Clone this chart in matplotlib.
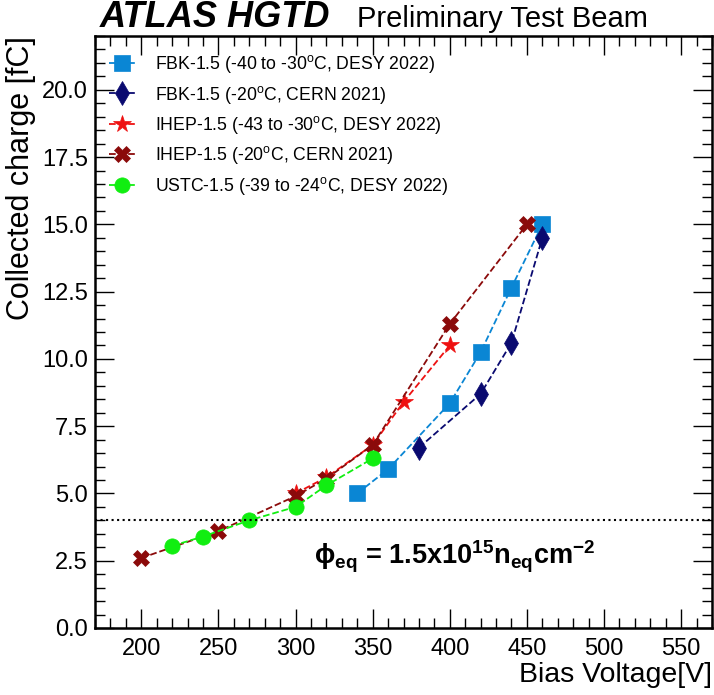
import matplotlib
matplotlib.use("Agg")
import matplotlib.pyplot as plt
from matplotlib.ticker import MultipleLocator, FormatStrFormatter

plt.rcParams["font.family"] = ["Liberation Sans", "DejaVu Sans"]
plt.rcParams["mathtext.fontset"] = "custom"
plt.rcParams["mathtext.rm"] = "Liberation Sans"
plt.rcParams["mathtext.bf"] = "Liberation Sans:bold"

# data
fbk_desy_v = [340, 360, 400, 420, 440, 460]
fbk_desy_q = [5.0, 5.9, 8.35, 10.25, 12.65, 15.0]
fbk_cern_v = [380, 420, 440, 460]
fbk_cern_q = [6.7, 8.7, 10.6, 14.5]
ihep_desy_v = [300, 320, 350, 370, 400]
ihep_desy_q = [5.0, 5.6, 6.8, 8.4, 10.5]
ihep_cern_v = [200, 250, 300, 320, 350, 400, 450]
ihep_cern_q = [2.6, 3.6, 4.9, 5.55, 6.8, 11.3, 15.0]
ustc_v = [220, 240, 270, 300, 320, 350]
ustc_q = [3.05, 3.4, 4.0, 4.5, 5.3, 6.3]
threshold = 4.0

deg = r"$^{\mathrm{o}}$"
series = [
    (fbk_desy_v, fbk_desy_q, f"FBK-1.5 (-40 to -30{deg}C, DESY 2022)", "#0a86d4", "s", 11),
    (fbk_cern_v, fbk_cern_q, f"FBK-1.5 (-20{deg}C, CERN 2021)", "#0a0a70", "d", 12),
    (ihep_desy_v, ihep_desy_q, f"IHEP-1.5 (-43 to -30{deg}C, DESY 2022)", "#ee1111", "*", 13),
    (ihep_cern_v, ihep_cern_q, f"IHEP-1.5 (-20{deg}C, CERN 2021)", "#8b0a0a", "X", 11),
    (ustc_v, ustc_q, f"USTC-1.5 (-39 to -24{deg}C, DESY 2022)", "#11ee11", "o", 11),
]

fig = plt.figure(figsize=(7.14, 6.95), dpi=100)
ax = fig.add_axes([95 / 714, 67 / 695, 617 / 714, 592 / 695])

for v, q, lab, col, mk, ms in series:
    ax.plot(v, q, linestyle="--", color=col, marker=mk, markersize=ms,
            linewidth=1.3, label=lab, markeredgewidth=0.5)

ax.axhline(threshold, color="black", linestyle=":", linewidth=1.5)

ax.set_xlim(170, 570)
ax.set_ylim(0, 22)
ax.xaxis.set_major_locator(MultipleLocator(50))
ax.xaxis.set_minor_locator(MultipleLocator(10))
ax.yaxis.set_major_locator(MultipleLocator(2.5))
ax.yaxis.set_minor_locator(MultipleLocator(0.5))
ax.yaxis.set_major_formatter(FormatStrFormatter("%.1f"))
ax.tick_params(which="both", direction="in", top=True, right=True, labelsize=17)
ax.tick_params(which="major", length=14, width=1)
ax.tick_params(which="minor", length=7, width=1)
ax.tick_params(axis="x", pad=7)
ax.tick_params(axis="y", pad=5)
for s in ax.spines.values():
    s.set_linewidth(1.8)

ax.set_xlabel("Bias Voltage[V]", fontsize=20.5, loc="right", labelpad=2)
ax.set_ylabel("Collected charge [fC]", fontsize=22, loc="top", labelpad=4)

ax.legend(loc="upper left", frameon=False, fontsize=12.7, handlelength=1.5,
          handletextpad=1.1, borderaxespad=0.4, labelspacing=0.48,
          bbox_to_anchor=(0.0, 0.995))

ax.text(312, 2.35,
        r"$\mathbf{\phi_{eq}}$ = 1.5x10$^{\mathbf{15}}$n$_{\mathbf{eq}}$cm$^{\mathbf{-2}}$",
        fontsize=19.5, fontweight="bold")

fig.text(100 / 714, 1 - 27 / 695, "ATLAS HGTD", fontsize=26, fontweight="bold",
         fontstyle="italic")
fig.text(357 / 714, 1 - 27 / 695, "Preliminary Test Beam", fontsize=21)

fig.savefig("out.png", dpi=100)
